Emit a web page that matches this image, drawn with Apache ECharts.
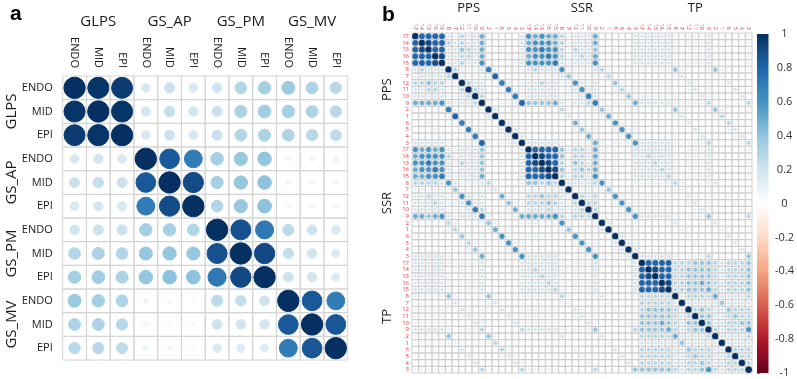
<!DOCTYPE html>
<html>
<head>
<meta charset="utf-8">
<script src="https://cdn.jsdelivr.net/npm/echarts@6/dist/echarts.min.js"></script>
<style>
  html, body { margin: 0; padding: 0; background: #fff; }
  #chart { width: 797px; height: 379px; }
</style>
</head>
<body>
<div id="chart"></div>
<script>
// ---- panel a ----
const subLabels = ['ENDO', 'MID', 'EPI']
const groupsA = ['GLPS', 'GS_AP', 'GS_PM', 'GS_MV']
// rows/cols: GLPS ENDO MID EPI, GS_AP ..., GS_PM ..., GS_MV ...
const corrA = [
  [1.00, 0.98, 0.96, 0.17, 0.22, 0.17, 0.20, 0.30, 0.34, 0.37, 0.31, 0.28],
  [0.98, 1.00, 0.98, 0.19, 0.24, 0.19, 0.22, 0.32, 0.35, 0.34, 0.31, 0.28],
  [0.96, 0.98, 1.00, 0.17, 0.22, 0.18, 0.22, 0.30, 0.32, 0.31, 0.28, 0.26],
  [0.17, 0.19, 0.17, 1.00, 0.85, 0.70, 0.34, 0.38, 0.40, 0.06, 0.06, 0.07],
  [0.22, 0.24, 0.22, 0.85, 1.00, 0.90, 0.33, 0.39, 0.41, 0.05, 0.05, 0.06],
  [0.17, 0.19, 0.18, 0.70, 0.90, 1.00, 0.30, 0.38, 0.41, 0.04, 0.05, 0.05],
  [0.20, 0.22, 0.22, 0.34, 0.33, 0.30, 1.00, 0.88, 0.72, 0.27, 0.21, 0.16],
  [0.30, 0.32, 0.30, 0.38, 0.39, 0.38, 0.88, 1.00, 0.91, 0.24, 0.20, 0.15],
  [0.34, 0.35, 0.32, 0.40, 0.41, 0.41, 0.72, 0.91, 1.00, 0.21, 0.19, 0.15],
  [0.37, 0.34, 0.31, 0.06, 0.05, 0.04, 0.27, 0.24, 0.21, 1.00, 0.85, 0.70],
  [0.31, 0.31, 0.28, 0.06, 0.05, 0.05, 0.21, 0.20, 0.19, 0.85, 1.00, 0.86],
  [0.28, 0.28, 0.26, 0.07, 0.06, 0.05, 0.16, 0.15, 0.15, 0.70, 0.86, 1.00]
]

// ---- panel b ----
const groupsB = ['PPS', 'SSR', 'TP']
const itemsB = ['17', '14', '13', '16', '15', '8', '7', '12', '11', '10', '9', '2', '1', '6', '5', '4', '3']
// cell codes: . none, 0 ~0.04, 1-9 tenths, X 1, a/b small negatives
const codeValue = { '.': 0, '0': 0.04, '1': 0.12, '2': 0.2, '3': 0.3, '4': 0.4, '5': 0.5, '6': 0.6, '7': 0.7, '8': 0.8, '9': 0.9, 'X': 1, 'a': -0.08, 'b': -0.15 }
const blockPP = [
  'X8888|213225|000002', '8X988|323225|000002', '89X88|224325|001002', '888X9|223325|000102',
  '8889X|223226|000012', '23222|X31112|710001', '12222|3X1111|180000', '33433|11X322|007101',
  '22332|113X32|001711', '22222|1123X3|000171', '55556|21223X|101118', '00000|710001|X20001',
  '00000|180000|2X0000', '00100|007101|00X211', '00010|001711|002X21', '00001|000171|0012X2',
  '22222|101118|10112X'
]
const blockPS = [
  '65655|312225|000002', '56665|312225|000002', '66766|313224|001002', '56676|312325|000002',
  '66667|212226|000002', '23222|611112|310001', '11111|241111|130000', '22322|116212|004101',
  '22222|112622|001311', '22222|111272|000141', '44445|212237|101115', '00000|310001|410001',
  '00000|120000|150000', '00100|005101|006101', '00000|001411|001611', '00000|000151|000161',
  '22222|101115|101116'
]
const blockPT = [
  '22222|101112|aa0001', '22222|101112|aa0001', '22222|101112|aa0001', '22222|101112|aa0001',
  '22222|101112|aa0001', '10111|410001|410000', '00000|120000|010000', '11111|002101|002000',
  '11111|001201|000200', '11111|a00121|000020', '22222|101113|000003', '00000|410000|410000',
  '00000|120000|130000', '00000|002000|003100', '00000|000200|001200', '00000|a00020|000120',
  '22222|101113|000013'
]
const blockSS = [
  'X8888|413325|101002', '8X988|413325|101002', '89X98|314325|001002', '889X9|413435|001002',
  '8889X|313326|000002', '44343|X22223|610001', '11111|2X1111|140000', '33433|21X323|006101',
  '33343|213X33|001611', '22232|2123X3|000161', '55556|31333X|101116', '11000|610001|X20001',
  '00000|140000|2X0000', '11110|006101|00X211', '00000|001611|002X21', '00000|000161|0012X2',
  '22222|101116|10112X'
]
const blockST = [
  '22222|101112|000001', '23222|101112|000001', '22322|101112|000001', '22232|101112|000001',
  '22223|101112|000001', '11111|310001|200000', '00000|110000|000000', '11111|002101|001000',
  '11111|001201|000100', '11111|000121|000010', '22222|101114|000003', '00000|200000|200000',
  '00000|010000|010000', '00000|001000|002000', '00000|000100|000200', '00000|000010|000020',
  '22222|101113|000004'
]
const blockTT = [
  'X8888|333444|323334', '8X988|334444|323334', '89X88|334444|323334', '888X9|334454|323334',
  '8889X|334445|323334', '33333|X23333|522223', '33333|2X2222|242222', '34444|32X343|224333',
  '44444|323X44|223433', '44454|3244X4|223344', '44445|32344X|323336', '33333|522223|X22223',
  '22222|242222|2X2222', '33333|224333|22X333', '33333|223433|223X33', '33333|223343|2233X3',
  '44444|323346|32333X'
]
const colorTicks = [-1, -0.8, -0.6, -0.4, -0.2, 0, 0.2, 0.4, 0.6, 0.8, 1]
const rdbu = ['#67001F', '#B2182B', '#D6604D', '#F4A582', '#FDDBC7', '#FFFFFF', '#D1E5F0', '#92C5DE', '#4393C3', '#2166AC', '#053061']

const blocks = {
  '0-0': blockPP, '0-1': blockPS, '0-2': blockPT,
  '1-1': blockSS, '1-2': blockST, '2-2': blockTT
}
function code(block, i, j) {
  return codeValue[block[i].replace(/\|/g, '')[j]]
}
function cellB(r, c) {
  const gr = Math.floor(r / 17), gc = Math.floor(c / 17)
  const i = r % 17, j = c % 17
  if (gr < gc) return code(blocks[gr + '-' + gc], i, j)
  if (gr > gc) return code(blocks[gc + '-' + gr], j, i)
  const b = blocks[gr + '-' + gr]
  return i <= j ? code(b, i, j) : code(b, j, i)
}

const nB = groupsB.length * itemsB.length
const keysB = [], keysA = []
groupsB.forEach(g => itemsB.forEach(it => keysB.push(g + ' ' + it)))
groupsA.forEach(g => subLabels.forEach(s => keysA.push(g + ' ' + s)))

const dataA = []
corrA.forEach((row, r) => row.forEach((v, c) => dataA.push([c, r, v])))
const dataB = []
for (let r = 0; r < nB; r++) for (let c = 0; c < nB; c++) dataB.push([c, r, cellB(r, c)])

const chart = echarts.init(document.getElementById('chart'))
const font = 'Open Sans'
const tail = v => v.split(' ')[1]

function cellRender(stroke, strokeW) {
  return function (params, api) {
    const p = api.coord([api.value(0), api.value(1)])
    const s = api.size([1, 1])
    const v = api.value(2)
    const r = 0.45 * Math.sqrt(Math.abs(v)) * s[0]
    const color = api.visual('color')
    const kids = [{
      type: 'rect',
      shape: { x: p[0] - s[0] / 2, y: p[1] - s[1] / 2, width: s[0], height: s[1] },
      style: { fill: null, stroke: stroke, lineWidth: 1 }
    }]
    if (v !== 0) kids.push({ type: 'circle', shape: { cx: p[0], cy: p[1], r: r }, style: { fill: color, stroke: color, lineWidth: strokeW } })
    return { type: 'group', children: kids }
  }
}

const hidden = { axisLine: { show: false }, axisTick: { show: false }, splitLine: { show: false } }

const option = {
  animation: false,
  textStyle: { fontFamily: font },
  grid: [
    { left: 62.7, top: 76, width: 285, height: 284 },
    { left: 412, top: 33, width: 340, height: 340 },
    { left: 757, top: 34, width: 16, height: 339 }
  ],
  xAxis: [
    Object.assign({ type: 'category', gridIndex: 0, position: 'top', data: keysA,
      axisLabel: { rotate: 90, interval: 0, margin: 8, fontSize: 11, color: '#1a1a1a', formatter: tail } }, hidden),
    Object.assign({ type: 'category', gridIndex: 0, position: 'top', offset: 40, data: keysA,
      axisLabel: { interval: 0, margin: 7, fontSize: 15, color: '#1a1a1a', formatter: (v, i) => i % 3 === 1 ? groupsA[Math.floor(i / 3)] : '' } }, hidden),
    Object.assign({ type: 'category', gridIndex: 1, position: 'top', data: keysB,
      axisLabel: { rotate: 90, interval: 0, margin: 3, fontSize: 6, color: '#e3404a', formatter: tail } }, hidden),
    Object.assign({ type: 'category', gridIndex: 1, position: 'top', offset: 14, data: keysB,
      axisLabel: { interval: 0, margin: 4, fontSize: 13, color: '#1a1a1a', formatter: (v, i) => i % 17 === 8 ? groupsB[Math.floor(i / 17)] : '' } }, hidden),
    { type: 'value', gridIndex: 2, min: 0, max: 1, show: false }
  ],
  yAxis: [
    Object.assign({ type: 'category', gridIndex: 0, position: 'left', inverse: true, data: keysA,
      axisLabel: { interval: 0, margin: 10, fontSize: 11, color: '#1a1a1a', formatter: tail } }, hidden),
    Object.assign({ type: 'category', gridIndex: 0, position: 'left', inverse: true, offset: 36, data: keysA,
      axisLabel: { rotate: 90, interval: 0, margin: 7, fontSize: 15, color: '#1a1a1a', formatter: (v, i) => i % 3 === 1 ? groupsA[Math.floor(i / 3)] : '' } }, hidden),
    Object.assign({ type: 'category', gridIndex: 1, position: 'left', inverse: true, data: keysB,
      axisLabel: { interval: 0, margin: 3, fontSize: 6, color: '#e3404a', formatter: tail } }, hidden),
    Object.assign({ type: 'category', gridIndex: 1, position: 'left', inverse: true, offset: 14, data: keysB,
      axisLabel: { rotate: 90, interval: 0, margin: 4, fontSize: 13, color: '#1a1a1a', formatter: (v, i) => i % 17 === 8 ? groupsB[Math.floor(i / 17)] : '' } }, hidden),
    { type: 'value', gridIndex: 2, min: -1, max: 1, position: 'right',
      axisLine: { show: false }, splitLine: { show: false },
      axisTick: { show: true, length: 3, lineStyle: { color: '#777' }, customValues: colorTicks },
      axisLabel: { margin: 16, align: 'center', fontSize: 11, color: '#333', customValues: colorTicks,
        formatter: v => String(Math.round(v * 10) / 10) } }
  ],
  visualMap: {
    show: false, type: 'continuous', min: -1, max: 1, dimension: 2, seriesIndex: [0, 1],
    inRange: { color: rdbu }
  },
  series: [
    { type: 'custom', xAxisIndex: 0, yAxisIndex: 0, data: dataA, renderItem: cellRender('#d4d4d4', 1) },
    { type: 'custom', xAxisIndex: 2, yAxisIndex: 2, data: dataB, renderItem: cellRender('#cfcfcf', 0.8) },
    { type: 'custom', xAxisIndex: 4, yAxisIndex: 4, data: [[0, 1, -1]],
      renderItem: (params, api) => {
        const a = api.coord([0, api.value(1)])
        const b = api.coord([1, api.value(2)])
        const stops = rdbu.slice().reverse().map((c, k) => ({ offset: k / (rdbu.length - 1), color: c }))
        return { type: 'rect', shape: { x: a[0], y: a[1], width: b[0] - a[0], height: b[1] - a[1] },
          style: { fill: new echarts.graphic.LinearGradient(0, 0, 0, 1, stops) } }
      } }
  ],
  graphic: [
    { type: 'text', left: 10, top: 4, style: { text: 'a', font: 'bold 21px "Liberation Sans"', fill: '#000' } },
    { type: 'text', left: 382, top: 5, style: { text: 'b', font: 'bold 21px "Liberation Sans"', fill: '#000' } }
  ]
}
chart.setOption(option)
</script>
</body>
</html>
